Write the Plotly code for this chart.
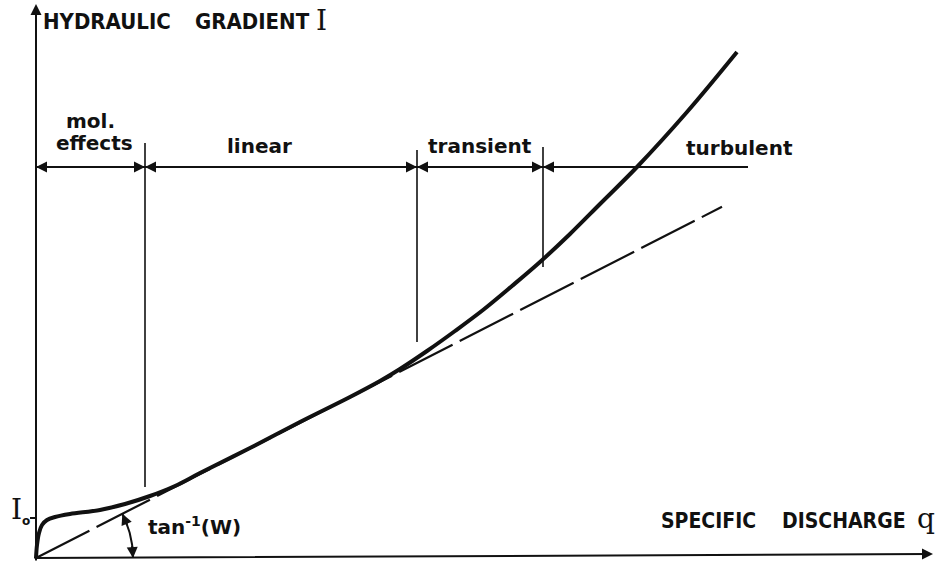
import math
import plotly.graph_objects as go

# Hydraulic gradient I against specific discharge q (schematic units)
q_curve = [0.00, 0.01, 0.03, 0.06, 0.11, 0.19, 0.34, 0.64, 0.89, 1.14, 1.39, 1.64,
           2.14, 2.64, 3.14, 3.44, 3.64, 3.91, 4.19, 4.47, 4.76, 5.04, 5.34, 5.64,
           6.01, 6.51, 7.01]
I_curve = [0.00, 0.13, 0.25, 0.33, 0.38, 0.41, 0.44, 0.48, 0.54, 0.62, 0.72, 0.85,
           1.10, 1.36, 1.61, 1.77, 1.89, 2.07, 2.27, 2.48, 2.72, 2.96, 3.24, 3.54,
           3.91, 4.46, 5.06]

# Darcy line I = W * q and the threshold gradient I0
W = 0.512
q_darcy_end = 6.86
I0 = 0.40

# Flow regimes along q
regime_names = ["mol.", "effects", "linear", "transient", "turbulent"]
regime_bounds = [0.0, 1.09, 3.81, 5.07]
regime_end = 7.12
regime_level = 3.91
bound_top = [4.15, 4.08, 4.11]
bound_bottom = [0.71, 2.16, 2.91]

q_axis_end = 8.97
I_axis_end = 5.54

BLACK = "#111111"
SANS = "DejaVu Sans"
CAPS = "DejaVu Sans Condensed, DejaVu Sans"
SERIF = "DejaVu Serif"

fig = go.Figure()

# Darcy (linear) reference line
fig.add_trace(go.Scatter(
    x=[0, q_darcy_end], y=[0, W * q_darcy_end], mode="lines",
    line=dict(color=BLACK, width=2.2, dash="60px,8px"), hoverinfo="skip"))

# Measured behaviour
fig.add_trace(go.Scatter(
    x=q_curve, y=I_curve, mode="lines",
    line=dict(color=BLACK, width=4, shape="spline", smoothing=1.0), hoverinfo="skip"))

# Regime dimension line
fig.add_trace(go.Scatter(
    x=[regime_bounds[0], regime_end], y=[regime_level, regime_level], mode="lines",
    line=dict(color=BLACK, width=2), hoverinfo="skip"))

# Regime boundaries
for b, top, bot in zip(regime_bounds[1:], bound_top, bound_bottom):
    fig.add_trace(go.Scatter(
        x=[b, b], y=[bot, top], mode="lines",
        line=dict(color=BLACK, width=1.6), hoverinfo="skip"))

# I0 tick
fig.add_trace(go.Scatter(
    x=[-0.06, 0], y=[I0, I0], mode="lines",
    line=dict(color=BLACK, width=2), hoverinfo="skip"))

# Angle arc tan^-1(W)
r_arc = 0.97
theta_end = math.atan(W)
n = 40
arc_t = [theta_end * i / n for i in range(n + 1)]
fig.add_trace(go.Scatter(
    x=[r_arc * math.cos(t) for t in arc_t], y=[r_arc * math.sin(t) for t in arc_t],
    mode="lines", line=dict(color=BLACK, width=2), hoverinfo="skip"))

ann = []


def arrow(x, y, ax, ay, width=2, size=1.2):
    ann.append(dict(x=x, y=y, ax=ax, ay=ay, xref="x", yref="y", axref="x", ayref="y",
                    text="", showarrow=True, arrowhead=2, arrowsize=size,
                    arrowwidth=width, arrowcolor=BLACK, standoff=0, startstandoff=0))


# Axes with arrowheads
arrow(0, I_axis_end, 0, -0.04, width=2, size=1.1)
arrow(q_axis_end, 0.04, -0.03, 0.0, width=2, size=1.1)

# Dimension arrows at regime boundaries
arrow(regime_bounds[0], regime_level, regime_bounds[0] + 0.12, regime_level, width=2, size=1.1)
for b in regime_bounds[1:]:
    arrow(b, regime_level, b - 0.12, regime_level, width=2, size=1.1)
    arrow(b, regime_level, b + 0.12, regime_level, width=2, size=1.1)

# Arc arrowheads
t_in = 0.14
arrow(r_arc * math.cos(theta_end), r_arc * math.sin(theta_end),
      r_arc * math.cos(theta_end - t_in), r_arc * math.sin(theta_end - t_in), width=2, size=1.1)
arrow(r_arc, 0.0, r_arc * math.cos(t_in), r_arc * math.sin(t_in), width=2, size=1.1)


def label(txt, x, y, size, family=SANS, weight="bold", xanchor="center"):
    ann.append(dict(x=x, y=y, xref="x", yref="y", text=txt, showarrow=False,
                    xanchor=xanchor, yanchor="middle",
                    font=dict(family=family, size=size, color=BLACK, weight=weight)))


# Regime labels
label(regime_names[0], 0.54, 4.37, 20)
label(regime_names[1], 0.58, 4.15, 20)
label(regime_names[2], 2.23, 4.12, 20)
label(regime_names[3], 4.44, 4.12, 20)
label(regime_names[4], 7.03, 4.10, 20)

# Axis titles
label("HYDRAULIC", 0.05, 5.37, 22, family=CAPS, xanchor="left")
label("GRADIENT", 1.57, 5.37, 22, family=CAPS, xanchor="left")
label("I", 2.85, 5.38, 28, family=SERIF, weight="normal")
label("SPECIFIC", 6.23, 0.37, 21, family=CAPS, xanchor="left")
label("DISCHARGE", 7.44, 0.37, 21, family=CAPS, xanchor="left")
label("q", 8.90, 0.40, 28, family=SERIF, weight="normal")

# Threshold gradient and angle labels
label("I<sub><span style='font-family:DejaVu Sans;font-weight:bold;font-size:12px'>o</span></sub>",
      -0.16, 0.48, 28, family=SERIF, weight="normal")
label("tan<sup>-1</sup>(W)", 1.10, 0.32, 20, xanchor="left")

fig.update_layout(
    width=937, height=564, autosize=False,
    margin=dict(l=0, r=0, t=0, b=0),
    paper_bgcolor="white", plot_bgcolor="white",
    showlegend=False,
    xaxis=dict(range=[-0.36, 9.01], visible=False, fixedrange=True),
    yaxis=dict(range=[-0.06, 5.58], visible=False, fixedrange=True),
    annotations=ann,
)

fig.write_html("out.html")
